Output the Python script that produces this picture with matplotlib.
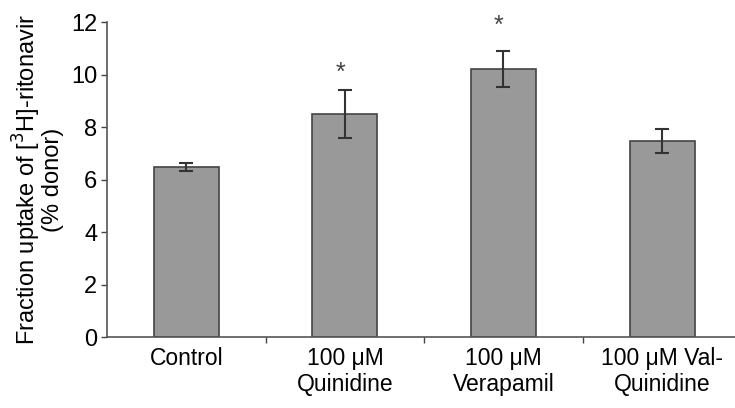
import matplotlib
matplotlib.use('Agg')
import matplotlib.pyplot as plt
from matplotlib.ticker import FixedLocator

plt.rcParams['font.family'] = ['Liberation Sans', 'DejaVu Sans']

# uptake of [3H]-ritonavir per treatment (mean, SD)
groups = ['Control', '100 \u03bcM\nQuinidine', '100 \u03bcM\nVerapamil', '100 \u03bcM Val-\nQuinidine']
uptake = [6.48, 8.5, 10.2, 7.47]
sd = [0.16, 0.9, 0.68, 0.47]
significant = [False, True, True, False]

fig = plt.figure(figsize=(7.35, 4.08), dpi=100)
ax = fig.add_axes([0.1456, 0.174, 0.8544, 0.772])

x = range(len(groups))
ax.bar(x, uptake, width=0.41, color='#999999', edgecolor='#444444', linewidth=1.2)
ax.errorbar(x, uptake, yerr=sd, fmt='none', ecolor='#333333',
            elinewidth=1.5, capsize=5, capthick=1.5)

# asterisks above the error bars for significant groups
star_gap = [0, 0.65, 0.96, 0]
for i, (m, s, sig) in enumerate(zip(uptake, sd, significant)):
    if sig:
        ax.text(i - 0.03, m + s + star_gap[i], '*', ha='center', va='center',
                fontsize=18, color='#444444', clip_on=False)

ax.set_xlim(-0.5, 3.46)
ax.set_ylim(0, 12)
ax.set_yticks(range(0, 13, 2))
ax.set_xticks(list(x))
ax.set_xticklabels(groups, fontsize=16.5, linespacing=1.2)
ax.xaxis.set_minor_locator(FixedLocator([0.5, 1.5, 2.5]))
ax.tick_params(axis='x', which='major', length=0, pad=7)
ax.tick_params(axis='x', which='minor', length=4, width=1, color='#444444')
ax.tick_params(axis='y', labelsize=17, length=4, width=1, color='#444444', pad=3)

for side in ['top', 'right']:
    ax.spines[side].set_visible(False)
for side in ['left', 'bottom']:
    ax.spines[side].set_color('#555555')
    ax.spines[side].set_linewidth(1.2)

ax.set_ylabel('Fraction uptake of [$^{3}$H]-ritonavir\n(% donor)',
              fontsize=17, linespacing=0.95, labelpad=5)

fig.savefig('out.png', dpi=100)
